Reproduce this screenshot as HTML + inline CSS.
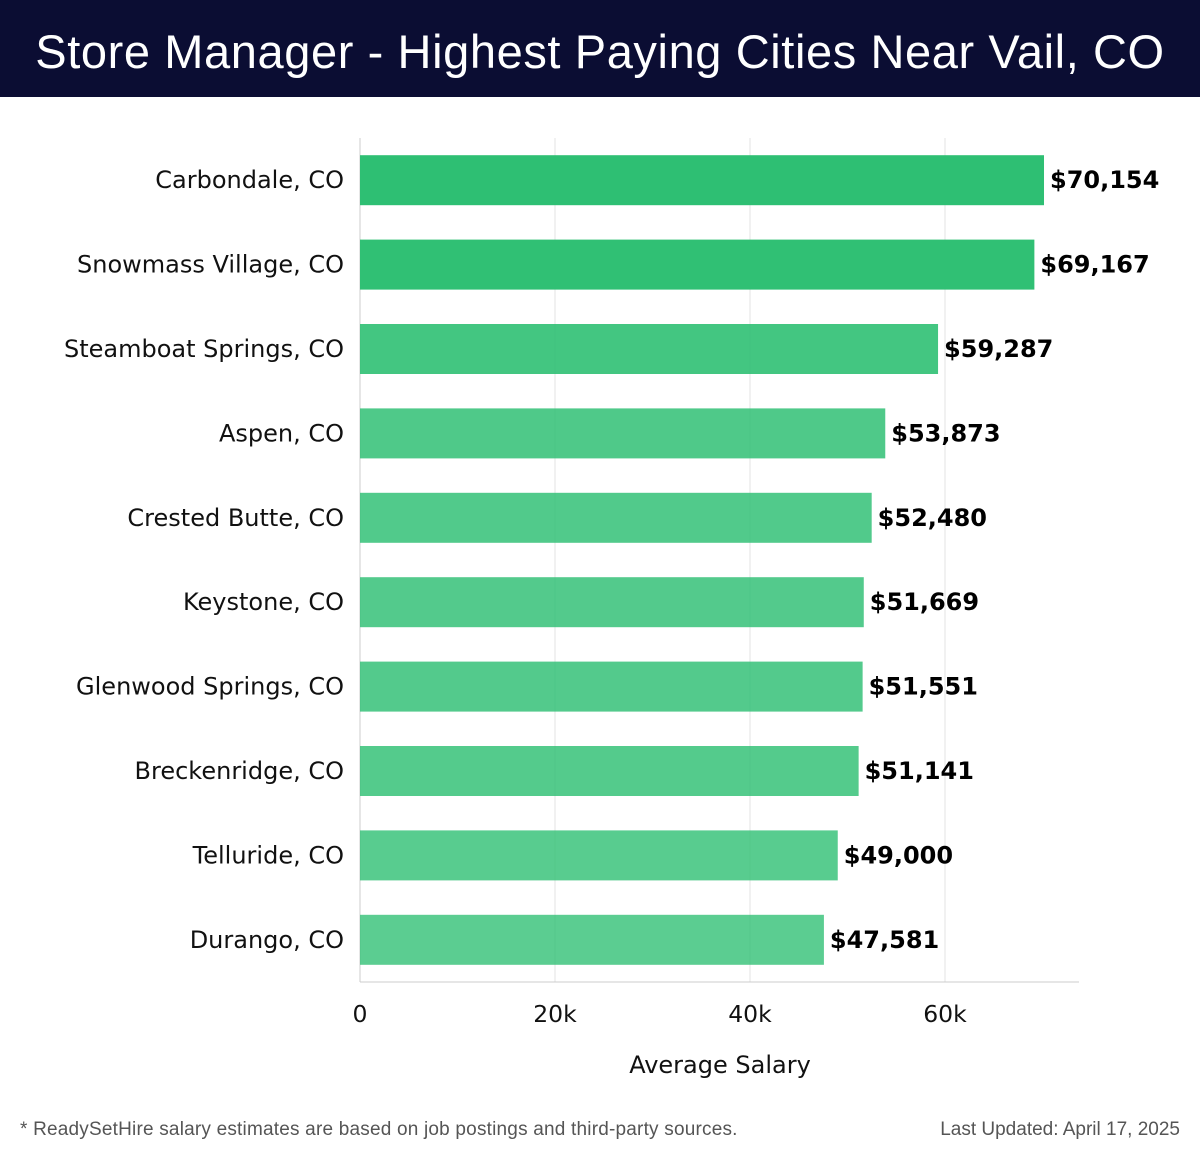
<!DOCTYPE html>
<html><head><meta charset="utf-8"><style>
body{margin:0;width:1200px;height:1158px;background:#fff;font-family:"Liberation Sans","DejaVu Sans",sans-serif;overflow:hidden;position:relative}
#hdr{position:absolute;left:0;top:0;width:1200px;height:97px;background:#0b0d33}
#hdr h1{margin:0;color:#fff;font-weight:normal;font-size:47px;line-height:104px;text-align:center;letter-spacing:0.6px}
.foot{position:absolute;top:1119px;font-size:19px;color:#555}
#chart text{font-family:"DejaVu Sans",sans-serif}
</style></head><body>
<div id="hdr"><h1>Store Manager - Highest Paying Cities Near Vail, CO</h1></div>
<svg id="chart" width="1200" height="1158" style="position:absolute;left:0;top:0"></svg>
<div class="foot" style="left:20px;letter-spacing:0.2px">* ReadySetHire salary estimates are based on job postings and third-party sources.</div>
<div class="foot" style="right:20px">Last Updated: April 17, 2025</div>
<script>
const categories=["Carbondale, CO","Snowmass Village, CO","Steamboat Springs, CO","Aspen, CO","Crested Butte, CO","Keystone, CO","Glenwood Springs, CO","Breckenridge, CO","Telluride, CO","Durango, CO"];
const values=[70154,69167,59287,53873,52480,51669,51551,51141,49000,47581];
const ticks=[0,20000,40000,60000];
const tickLabels=["0","20k","40k","60k"];
const NS="http://www.w3.org/2000/svg";
const svg=document.getElementById('chart');
const x0=360,pxPer=195/20000,top0=138,bottom=982,band=(bottom-top0)/categories.length;
const X=v=>x0+v*pxPer;
const Y=i=>top0+band*i+band/2;
function el(t,a){const e=document.createElementNS(NS,t);for(const k in a)e.setAttribute(k,a[k]);svg.appendChild(e);return e;}
ticks.forEach((t,i)=>{
 const g=el('line',{x1:X(t),x2:X(t),y1:top0,y2:bottom,stroke:'#e3e3e3','stroke-width':1});
 
 
 const tl=el('text',{x:X(t),y:1022,'text-anchor':'middle','font-size':23.5,fill:'#111'});
 tl.textContent=tickLabels[i];
 
 
});
const ax=el('line',{x1:x0,x2:1079,y1:bottom,y2:bottom,stroke:'#ccc','stroke-width':1});


const ax2=el('line',{x1:x0,x2:x0,y1:top0,y2:bottom,stroke:'#ccc','stroke-width':1});


const maxV=Math.max(...values);
categories.forEach((c,i)=>{
 const v=values[i];
 const op=0.78+0.22*(v-47000)/(maxV-47000);
 const b=el('rect',{x:x0,y:Y(i)-25,width:X(v)-x0,height:50,fill:'#2ebf73','fill-opacity':op.toFixed(3)});
 
 
 const l=el('text',{x:344,y:Y(i)+8,'text-anchor':'end','font-size':24,fill:'#111'});
 l.textContent=c;
 
 
 const vl=el('text',{x:X(v)+6,y:Y(i)+8,'font-size':24,'font-weight':'bold',fill:'#000'});
 vl.textContent='$'+v.toLocaleString('en-US');
 
 
});
const at=el('text',{x:720,y:1073,'text-anchor':'middle','font-size':24,fill:'#111'});
at.textContent='Average Salary';


</script>
</body></html>
